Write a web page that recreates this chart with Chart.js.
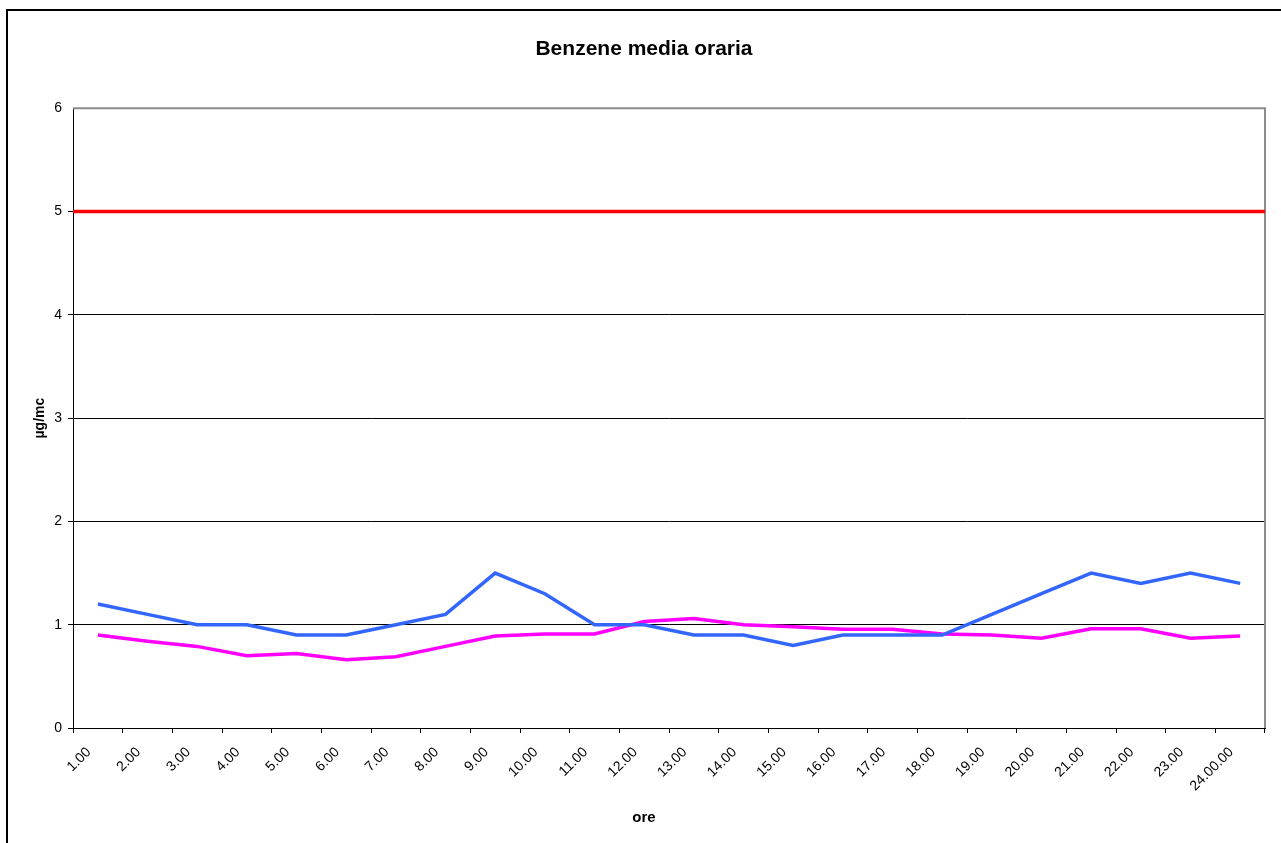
<!DOCTYPE html>
<html>
<head>
<meta charset="utf-8">
<script src="https://cdn.jsdelivr.net/npm/chart.js@4/dist/chart.umd.min.js"></script>
<style>
  html, body { margin: 0; padding: 0; background: #ffffff; overflow: hidden; }
  #frame { position: absolute; left: 6px; top: 9px; width: 1300px; height: 900px; border: 2px solid #000; box-sizing: border-box; }
  #wrap { position: absolute; left: 0; top: 0; width: 1281px; height: 843px; }
</style>
</head>
<body>
<div id="frame"></div>
<div id="wrap"><canvas id="c" width="1281" height="843"></canvas></div>
<script>
const TITLE = "Benzene media oraria";
const Y_TITLE = "µg/mc";
const X_TITLE = "ore";
const hours = ["1.00","2.00","3.00","4.00","5.00","6.00","7.00","8.00","9.00","10.00","11.00","12.00",
               "13.00","14.00","15.00","16.00","17.00","18.00","19.00","20.00","21.00","22.00","23.00","24.00.00"];
const seriesBlue = [1.2,1.1,1.0,1.0,0.9,0.9,1.0,1.1,1.5,1.3,1.0,1.0,0.9,0.9,0.8,0.9,0.9,0.9,1.1,1.3,1.5,1.4,1.5,1.4];
const seriesMagenta = [0.9,0.84,0.79,0.70,0.72,0.66,0.69,0.79,0.89,0.91,0.91,1.03,1.06,1.0,0.98,0.955,0.955,0.91,0.90,0.87,0.96,0.96,0.87,0.89];
const LIMIT = 5;
const Y_MIN = 0, Y_MAX = 6, Y_STEP = 1;

const FONT = "'Liberation Sans', Arial, sans-serif";

const extras = {
  id: 'extras',
  beforeDatasetsDraw(chart) {
    const {ctx, chartArea: a} = chart;
    ctx.save();
    ctx.strokeStyle = '#8c8c8c';
    ctx.lineWidth = 2;
    ctx.beginPath();
    ctx.moveTo(a.left, a.top);
    ctx.lineTo(a.right, a.top);
    ctx.lineTo(a.right, a.bottom);
    ctx.stroke();
    ctx.restore();
  },
  afterDatasetsDraw(chart) {
    const {ctx, chartArea: a, scales: {y}} = chart;
    const py = y.getPixelForValue(LIMIT);
    ctx.save();
    ctx.strokeStyle = '#ff0000';
    ctx.lineWidth = 3.5;
    ctx.beginPath();
    ctx.moveTo(a.left, py);
    ctx.lineTo(a.right, py);
    ctx.stroke();
    ctx.restore();
  },
  afterDraw(chart) {
    const {ctx} = chart;
    ctx.save();
    ctx.fillStyle = '#000';
    ctx.font = "bold 15px " + FONT;
    ctx.textAlign = 'center';
    ctx.textBaseline = 'middle';
    ctx.fillText(X_TITLE, 644, 818);
    ctx.restore();
  }
};

new Chart(document.getElementById('c'), {
  type: 'line',
  data: {
    labels: hours,
    datasets: [
      { label: 'Serie 1', data: seriesBlue, borderColor: '#3366ff', borderWidth: 3.5, pointRadius: 0, tension: 0 },
      { label: 'Serie 2', data: seriesMagenta, borderColor: '#ff00ff', borderWidth: 3.5, pointRadius: 0, tension: 0 }
    ]
  },
  options: {
    responsive: false,
    animation: false,
    events: [],
    layout: { padding: { left: 23, right: 16, top: 0, bottom: 0 } },
    plugins: {
      legend: { display: false },
      tooltip: { enabled: false },
      title: {
        display: true, text: TITLE, color: '#000',
        font: { family: FONT, size: 21, weight: 'bold' },
        padding: { top: 37, bottom: 46 }
      }
    },
    scales: {
      x: {
        offset: true,
        grid: { offset: true, drawOnChartArea: false, color: '#000', tickLength: 5 },
        border: { color: '#000', width: 1 },
        ticks: { color: '#000', font: { family: FONT, size: 14 }, minRotation: 45, maxRotation: 45, autoSkip: false, padding: 11, labelOffset: -9 },
        title: { display: false },
        afterFit(s) { s.height = 115; }
      },
      y: {
        min: Y_MIN, max: Y_MAX,
        grid: { color: ctx => (ctx.tick && ctx.tick.value === Y_MAX) ? 'rgba(0,0,0,0)' : '#000', tickLength: 5, drawTicks: true },
        border: { color: '#000', width: 1 },
        ticks: { stepSize: Y_STEP, color: '#000', font: { family: FONT, size: 14 }, padding: 6 },
        title: { display: true, text: Y_TITLE, color: '#000', font: { family: FONT, size: 14, weight: 'bold' }, padding: { top: 9, bottom: 0 } },
        afterFit(s) { s.width = 50; }
      }
    }
  },
  plugins: [extras]
});
</script>
</body>
</html>
